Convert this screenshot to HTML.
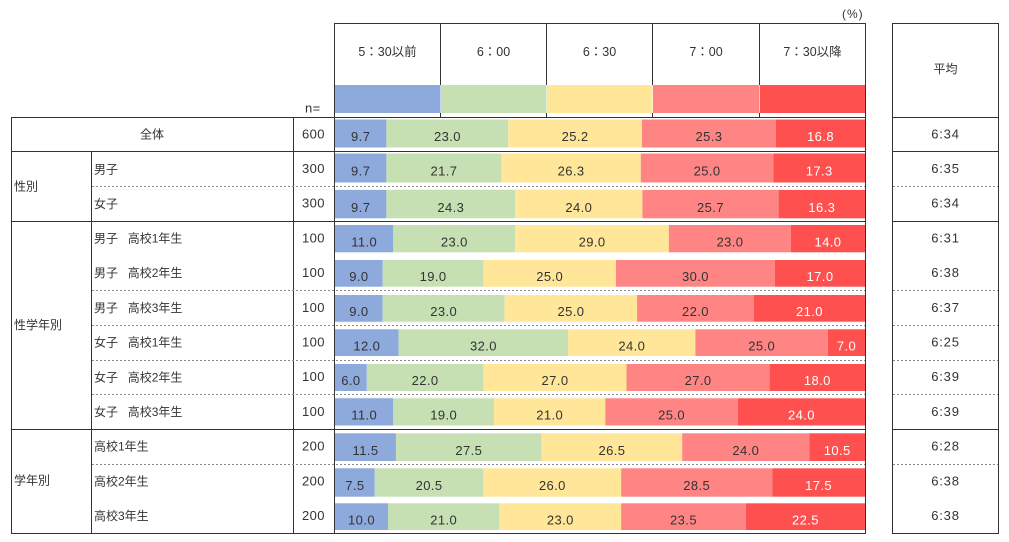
<!DOCTYPE html>
<html><head><meta charset="utf-8">
<style>
html,body{margin:0;padding:0;background:#fff;}
svg{display:block;}
text{font-family:"Liberation Sans","Noto Sans CJK JP",sans-serif;fill:#333;}
.l{font-size:12px;}
.h{font-size:12.5px;}
.n{font-size:13px;letter-spacing:0.4px;}
.w{fill:#fff;}
</style></head>
<body>
<svg width="1009" height="542" viewBox="0 0 1009 542" xmlns="http://www.w3.org/2000/svg">
<!-- legend color boxes -->
<rect x="334" y="85" width="106.5" height="28" fill="#8EA9DB"/>
<rect x="441" y="85" width="105.5" height="28" fill="#C6E0B4"/>
<rect x="547" y="85" width="105.5" height="28" fill="#FFE699"/>
<rect x="653" y="85" width="106.5" height="28" fill="#FF8585"/>
<rect x="760" y="85" width="105.5" height="28" fill="#FF5050"/>

<!-- grid lines -->
<g stroke="#333" stroke-width="1" fill="none">
<line x1="334" y1="23.5" x2="866" y2="23.5"/>
<line x1="892" y1="23.5" x2="999" y2="23.5"/>
<line x1="11" y1="117.5" x2="866" y2="117.5"/>
<line x1="11" y1="151.5" x2="866" y2="151.5"/>
<line x1="11" y1="221.5" x2="866" y2="221.5"/>
<line x1="11" y1="429.5" x2="866" y2="429.5"/>
<line x1="11" y1="533.5" x2="866" y2="533.5"/>
<line x1="892" y1="117.5" x2="999" y2="117.5"/>
<line x1="892" y1="151.5" x2="999" y2="151.5"/>
<line x1="892" y1="221.5" x2="999" y2="221.5"/>
<line x1="892" y1="429.5" x2="999" y2="429.5"/>
<line x1="892" y1="533.5" x2="999" y2="533.5"/>
<line x1="11.5" y1="117" x2="11.5" y2="534"/>
<line x1="91.5" y1="151" x2="91.5" y2="534"/>
<line x1="293.5" y1="117" x2="293.5" y2="534"/>
<line x1="334.5" y1="23" x2="334.5" y2="534"/>
<line x1="440.5" y1="23" x2="440.5" y2="85"/>
<line x1="546.5" y1="23" x2="546.5" y2="85"/>
<line x1="652.5" y1="23" x2="652.5" y2="85"/>
<line x1="759.5" y1="23" x2="759.5" y2="85"/>
<line x1="440.5" y1="113" x2="440.5" y2="117"/>
<line x1="546.5" y1="113" x2="546.5" y2="117"/>
<line x1="652.5" y1="113" x2="652.5" y2="117"/>
<line x1="759.5" y1="113" x2="759.5" y2="117"/>
<line x1="865.5" y1="23" x2="865.5" y2="534"/>
<line x1="892.5" y1="23" x2="892.5" y2="534"/>
<line x1="998.5" y1="23" x2="998.5" y2="534"/>
</g>
<g stroke="#888" stroke-width="1" stroke-dasharray="2,2" fill="none">
<line x1="92" y1="186.5" x2="865" y2="186.5"/>
<line x1="92" y1="290.5" x2="865" y2="290.5"/>
<line x1="92" y1="325.5" x2="865" y2="325.5"/>
<line x1="92" y1="360.5" x2="865" y2="360.5"/>
<line x1="92" y1="394.5" x2="865" y2="394.5"/>
<line x1="92" y1="464.5" x2="865" y2="464.5"/>
<line x1="893" y1="186.5" x2="998" y2="186.5"/>
<line x1="893" y1="290.5" x2="998" y2="290.5"/>
<line x1="893" y1="325.5" x2="998" y2="325.5"/>
<line x1="893" y1="360.5" x2="998" y2="360.5"/>
<line x1="893" y1="394.5" x2="998" y2="394.5"/>
<line x1="893" y1="464.5" x2="998" y2="464.5"/>
</g>

<!-- bars -->
<g transform="translate(0,119.5)">
<rect x="335" width="51.41" height="28" fill="#8EA9DB"/>
<rect x="386.41" width="121.9" height="28" fill="#C6E0B4"/>
<rect x="508.31" width="133.56" height="28" fill="#FFE699"/>
<rect x="641.87" width="134.09" height="28" fill="#FF8585"/>
<rect x="775.96" width="89.04" height="28" fill="#FF5050"/>
</g>
<g transform="translate(0,153.5)">
<rect x="335" width="51.41" height="29" fill="#8EA9DB"/>
<rect x="386.41" width="115.01" height="29" fill="#C6E0B4"/>
<rect x="501.42" width="139.39" height="29" fill="#FFE699"/>
<rect x="640.81" width="132.5" height="29" fill="#FF8585"/>
<rect x="773.31" width="91.69" height="29" fill="#FF5050"/>
</g>
<g transform="translate(0,190)">
<rect x="335" width="51.41" height="28.3" fill="#8EA9DB"/>
<rect x="386.41" width="128.79" height="28.3" fill="#C6E0B4"/>
<rect x="515.2" width="127.2" height="28.3" fill="#FFE699"/>
<rect x="642.4" width="136.21" height="28.3" fill="#FF8585"/>
<rect x="778.61" width="86.39" height="28.3" fill="#FF5050"/>
</g>
<g transform="translate(0,225)">
<rect x="335" width="58.3" height="27.3" fill="#8EA9DB"/>
<rect x="393.3" width="121.9" height="27.3" fill="#C6E0B4"/>
<rect x="515.2" width="153.7" height="27.3" fill="#FFE699"/>
<rect x="668.9" width="121.9" height="27.3" fill="#FF8585"/>
<rect x="790.8" width="74.2" height="27.3" fill="#FF5050"/>
</g>
<g transform="translate(0,260)">
<rect x="335" width="47.7" height="26.7" fill="#8EA9DB"/>
<rect x="382.7" width="100.7" height="26.7" fill="#C6E0B4"/>
<rect x="483.4" width="132.5" height="26.7" fill="#FFE699"/>
<rect x="615.9" width="159" height="26.7" fill="#FF8585"/>
<rect x="774.9" width="90.1" height="26.7" fill="#FF5050"/>
</g>
<g transform="translate(0,295)">
<rect x="335" width="47.7" height="26.7" fill="#8EA9DB"/>
<rect x="382.7" width="121.9" height="26.7" fill="#C6E0B4"/>
<rect x="504.6" width="132.5" height="26.7" fill="#FFE699"/>
<rect x="637.1" width="116.6" height="26.7" fill="#FF8585"/>
<rect x="753.7" width="111.3" height="26.7" fill="#FF5050"/>
</g>
<g transform="translate(0,329.3)">
<rect x="335" width="63.6" height="26.7" fill="#8EA9DB"/>
<rect x="398.6" width="169.6" height="26.7" fill="#C6E0B4"/>
<rect x="568.2" width="127.2" height="26.7" fill="#FFE699"/>
<rect x="695.4" width="132.5" height="26.7" fill="#FF8585"/>
<rect x="827.9" width="37.1" height="26.7" fill="#FF5050"/>
</g>
<g transform="translate(0,364)">
<rect x="335" width="31.8" height="27" fill="#8EA9DB"/>
<rect x="366.8" width="116.6" height="27" fill="#C6E0B4"/>
<rect x="483.4" width="143.1" height="27" fill="#FFE699"/>
<rect x="626.5" width="143.1" height="27" fill="#FF8585"/>
<rect x="769.6" width="95.4" height="27" fill="#FF5050"/>
</g>
<g transform="translate(0,398.3)">
<rect x="335" width="58.3" height="27.2" fill="#8EA9DB"/>
<rect x="393.3" width="100.7" height="27.2" fill="#C6E0B4"/>
<rect x="494" width="111.3" height="27.2" fill="#FFE699"/>
<rect x="605.3" width="132.5" height="27.2" fill="#FF8585"/>
<rect x="737.8" width="127.2" height="27.2" fill="#FF5050"/>
</g>
<g transform="translate(0,433.3)">
<rect x="335" width="60.95" height="27.7" fill="#8EA9DB"/>
<rect x="395.95" width="145.75" height="27.7" fill="#C6E0B4"/>
<rect x="541.7" width="140.45" height="27.7" fill="#FFE699"/>
<rect x="682.15" width="127.2" height="27.7" fill="#FF8585"/>
<rect x="809.35" width="55.65" height="27.7" fill="#FF5050"/>
</g>
<g transform="translate(0,468.3)">
<rect x="335" width="39.75" height="28.4" fill="#8EA9DB"/>
<rect x="374.75" width="108.65" height="28.4" fill="#C6E0B4"/>
<rect x="483.4" width="137.8" height="28.4" fill="#FFE699"/>
<rect x="621.2" width="151.05" height="28.4" fill="#FF8585"/>
<rect x="772.25" width="92.75" height="28.4" fill="#FF5050"/>
</g>
<g transform="translate(0,503.3)">
<rect x="335" width="53" height="26.7" fill="#8EA9DB"/>
<rect x="388" width="111.3" height="26.7" fill="#C6E0B4"/>
<rect x="499.3" width="121.9" height="26.7" fill="#FFE699"/>
<rect x="621.2" width="124.55" height="26.7" fill="#FF8585"/>
<rect x="745.75" width="119.25" height="26.7" fill="#FF5050"/>
</g>

<!-- header texts -->
<text class="l" x="842" y="18" style="letter-spacing:1px">(%)</text>
<text class="h" x="387.5" y="56" text-anchor="middle">5：30以前</text>
<text class="h" x="493.5" y="56" text-anchor="middle">6：00</text>
<text class="h" x="599.5" y="56" text-anchor="middle">6：30</text>
<text class="h" x="706" y="56" text-anchor="middle">7：00</text>
<text class="h" x="812.5" y="56" text-anchor="middle">7：30以降</text>
<text class="l" x="945.5" y="73" text-anchor="middle">平均</text>
<text class="n" x="305" y="112.5">n=</text>

<!-- left labels -->
<text class="l" x="152" y="138.5" text-anchor="middle">全体</text>
<text class="l" x="14" y="190.5">性別</text>
<text class="l" x="14" y="329">性学年別</text>
<text class="l" x="14" y="484.5">学年別</text>

<text class="l" x="94" y="173.3">男子</text>
<text class="l" x="94" y="208">女子</text>
<text class="l" x="94" y="242.5">男子<tspan x="127.7">高校1年生</tspan></text>
<text class="l" x="94" y="277.2">男子<tspan x="127.7">高校2年生</tspan></text>
<text class="l" x="94" y="311.9">男子<tspan x="127.7">高校3年生</tspan></text>
<text class="l" x="94" y="346.6">女子<tspan x="127.7">高校1年生</tspan></text>
<text class="l" x="94" y="381.3">女子<tspan x="127.7">高校2年生</tspan></text>
<text class="l" x="94" y="416">女子<tspan x="127.7">高校3年生</tspan></text>
<text class="l" x="94" y="450.7">高校1年生</text>
<text class="l" x="94" y="485.4">高校2年生</text>
<text class="l" x="94" y="520.1">高校3年生</text>

<!-- n values -->
<g text-anchor="middle">
<text class="n" x="313.5" y="138.3">600</text>
<text class="n" x="313.5" y="173">300</text>
<text class="n" x="313.5" y="207.7">300</text>
<text class="n" x="313.5" y="242.4">100</text>
<text class="n" x="313.5" y="277.1">100</text>
<text class="n" x="313.5" y="311.8">100</text>
<text class="n" x="313.5" y="346.5">100</text>
<text class="n" x="313.5" y="381.2">100</text>
<text class="n" x="313.5" y="415.9">100</text>
<text class="n" x="313.5" y="450.6">200</text>
<text class="n" x="313.5" y="485.3">200</text>
<text class="n" x="313.5" y="520">200</text>
</g>

<!-- average values -->
<g text-anchor="middle">
<text class="n" x="945.5" y="138.3" style="letter-spacing:0.8px">6:34</text>
<text class="n" x="945.5" y="173" style="letter-spacing:0.8px">6:35</text>
<text class="n" x="945.5" y="207.7" style="letter-spacing:0.8px">6:34</text>
<text class="n" x="945.5" y="242.4" style="letter-spacing:0.8px">6:31</text>
<text class="n" x="945.5" y="277.1" style="letter-spacing:0.8px">6:38</text>
<text class="n" x="945.5" y="311.8" style="letter-spacing:0.8px">6:37</text>
<text class="n" x="945.5" y="346.5" style="letter-spacing:0.8px">6:25</text>
<text class="n" x="945.5" y="381.2" style="letter-spacing:0.8px">6:39</text>
<text class="n" x="945.5" y="415.9" style="letter-spacing:0.8px">6:39</text>
<text class="n" x="945.5" y="450.6" style="letter-spacing:0.8px">6:28</text>
<text class="n" x="945.5" y="485.3" style="letter-spacing:0.8px">6:38</text>
<text class="n" x="945.5" y="520" style="letter-spacing:0.8px">6:38</text>
</g>

<!-- bar values -->
<g text-anchor="middle">
<text class="n" x="360.7" y="141.2">9.7</text>
<text class="n" x="447.4" y="141.2">23.0</text>
<text class="n" x="575.1" y="141.2">25.2</text>
<text class="n" x="708.9" y="141.2">25.3</text>
<text class="n w" x="820.5" y="141.2">16.8</text>

<text class="n" x="360.7" y="175.7">9.7</text>
<text class="n" x="443.9" y="175.7">21.7</text>
<text class="n" x="571.1" y="175.7">26.3</text>
<text class="n" x="707.1" y="175.7">25.0</text>
<text class="n w" x="819.2" y="175.7">17.3</text>

<text class="n" x="360.7" y="211.9">9.7</text>
<text class="n" x="450.8" y="211.9">24.3</text>
<text class="n" x="578.8" y="211.9">24.0</text>
<text class="n" x="710.5" y="211.9">25.7</text>
<text class="n w" x="821.8" y="211.9">16.3</text>

<text class="n" x="364.2" y="246.4">11.0</text>
<text class="n" x="454.3" y="246.4">23.0</text>
<text class="n" x="592.1" y="246.4">29.0</text>
<text class="n" x="729.9" y="246.4">23.0</text>
<text class="n w" x="827.9" y="246.4">14.0</text>

<text class="n" x="358.9" y="281">9.0</text>
<text class="n" x="433.1" y="281">19.0</text>
<text class="n" x="549.7" y="281">25.0</text>
<text class="n" x="695.4" y="281">30.0</text>
<text class="n w" x="820" y="281">17.0</text>

<text class="n" x="358.9" y="316">9.0</text>
<text class="n" x="443.7" y="316">23.0</text>
<text class="n" x="570.9" y="316">25.0</text>
<text class="n" x="695.4" y="316">22.0</text>
<text class="n w" x="809.4" y="316">21.0</text>

<text class="n" x="366.8" y="350.4">12.0</text>
<text class="n" x="483.4" y="350.4">32.0</text>
<text class="n" x="631.8" y="350.4">24.0</text>
<text class="n" x="761.7" y="350.4">25.0</text>
<text class="n w" x="846.5" y="350.4">7.0</text>

<text class="n" x="350.9" y="385.2">6.0</text>
<text class="n" x="425.1" y="385.2">22.0</text>
<text class="n" x="555" y="385.2">27.0</text>
<text class="n" x="698.1" y="385.2">27.0</text>
<text class="n w" x="817.3" y="385.2">18.0</text>

<text class="n" x="364.2" y="419.7">11.0</text>
<text class="n" x="443.7" y="419.7">19.0</text>
<text class="n" x="549.7" y="419.7">21.0</text>
<text class="n" x="671.6" y="419.7">25.0</text>
<text class="n w" x="801.4" y="419.7">24.0</text>

<text class="n" x="365.5" y="454.9">11.5</text>
<text class="n" x="468.8" y="454.9">27.5</text>
<text class="n" x="611.9" y="454.9">26.5</text>
<text class="n" x="745.8" y="454.9">24.0</text>
<text class="n w" x="837.2" y="454.9">10.5</text>

<text class="n" x="354.9" y="490.2">7.5</text>
<text class="n" x="429.1" y="490.2">20.5</text>
<text class="n" x="552.3" y="490.2">26.0</text>
<text class="n" x="696.7" y="490.2">28.5</text>
<text class="n w" x="818.6" y="490.2">17.5</text>

<text class="n" x="361.5" y="524.4">10.0</text>
<text class="n" x="443.7" y="524.4">21.0</text>
<text class="n" x="560.3" y="524.4">23.0</text>
<text class="n" x="683.5" y="524.4">23.5</text>
<text class="n w" x="805.4" y="524.4">22.5</text>
</g>
</svg>
</body></html>
